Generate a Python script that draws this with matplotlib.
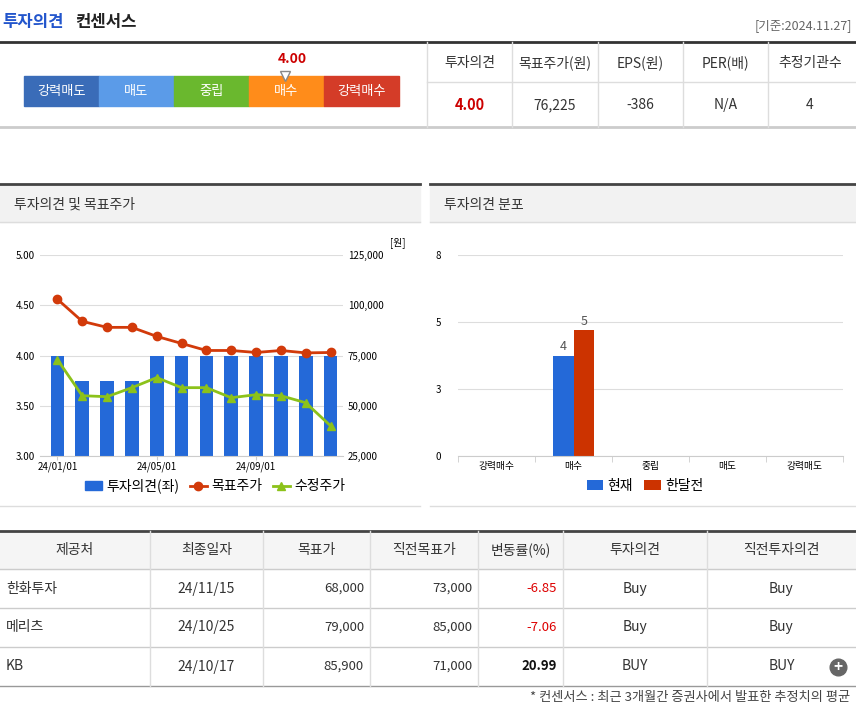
import matplotlib
matplotlib.use("Agg")
import matplotlib.pyplot as plt
from matplotlib import font_manager
from matplotlib.patches import Rectangle

cjk = [f.name for f in font_manager.fontManager.ttflist if "CJK" in f.name]
kr = [n for n in cjk if "KR" in n] or cjk
plt.rcParams["font.family"] = (kr[:1] if kr else []) + ["DejaVu Sans"]

W, H = 856, 710

# left chart data
dates = ["24/01/01", "", "", "", "24/05/01", "", "", "", "24/09/01", "", "", ""]
opinion = [4.0, 3.75, 3.75, 3.75, 4.0, 4.0, 4.0, 4.0, 4.0, 4.0, 4.0, 4.0]
target = [103000, 92000, 89000, 89000, 84500, 81000, 77500, 77500, 76500, 77500, 76300, 76500]
revised = [73000, 55000, 54500, 59000, 64000, 59000, 59000, 54000, 55500, 55000, 51500, 40000]

# right chart data
dist_cats = ["강력매수", "매수", "중립", "매도", "강력매도"]
dist_now = [0, 4, 0, 0, 0]
dist_prev = [0, 5, 0, 0, 0]

# header data
scale_labels = ["강력매도", "매도", "중립", "매수", "강력매수"]
scale_colors = ["#3a6cb8", "#5b9be8", "#6ab82e", "#ff8c1a", "#d43c28"]
summary_head = ["투자의견", "목표주가(원)", "EPS(원)", "PER(배)", "추정기관수"]
summary_vals = ["4.00", "76,225", "-386", "N/A", "4"]

# broker table
tbl_head = ["제공처", "최종일자", "목표가", "직전목표가", "변동률(%)", "투자의견", "직전투자의견"]
tbl_rows = [
    ["한화투자", "24/11/15", "68,000", "73,000", "-6.85", "Buy", "Buy"],
    ["메리츠", "24/10/25", "79,000", "85,000", "-7.06", "Buy", "Buy"],
    ["KB", "24/10/17", "85,900", "71,000", "20.99", "BUY", "BUY"],
]

fig = plt.figure(figsize=(W / 100, H / 100), dpi=100)
bg = fig.add_axes([0, 0, 1, 1])
bg.set_xlim(0, W)
bg.set_ylim(H, 0)
bg.axis("off")


def ax_px(x0, y0, x1, y1):
    return fig.add_axes([x0 / W, 1 - y1 / H, (x1 - x0) / W, (y1 - y0) / H])


# title
bg.text(2, 22, "투자의견", color="#2255cc", fontsize=12, fontweight="bold", va="center")
bg.text(75, 22, "컨센서스", color="#222", fontsize=12, fontweight="bold", va="center")
bg.text(852, 26, "[기준:2024.11.27]", color="#666", fontsize=9, ha="right", va="center")
bg.plot([0, 856], [42, 42], color="#333", lw=2)
bg.plot([0, 856], [127, 127], color="#ccc", lw=2)

# scale bar
x = 24
for lab, c in zip(scale_labels, scale_colors):
    bg.add_patch(Rectangle((x, 76), 75, 30, color=c))
    bg.text(x + 37.5, 91, lab, color="white", fontsize=9.5, ha="center", va="center")
    x += 75
bg.text(292, 59, "4.00", color="#cc0000", fontsize=10, fontweight="bold", ha="center", va="center")
bg.plot([285], [76], marker="v", color="white", markeredgecolor="#888", ms=7)

# summary table
cols = [427, 512, 598, 683, 768, 852]
bg.plot([427, 427], [42, 127], color="#ddd", lw=1)
bg.plot([427, 856], [82, 82], color="#ddd", lw=1)
for i, (h, v) in enumerate(zip(summary_head, summary_vals)):
    cx = (cols[i] + cols[i + 1]) / 2 if i < 4 else 810
    if i > 0:
        bg.plot([cols[i], cols[i]], [42, 127], color="#ddd", lw=1)
    bg.text(cx, 63, h, fontsize=10, ha="center", va="center", color="#333")
    bg.text(cx, 105, v, fontsize=10.5 if i == 0 else 10, ha="center", va="center",
            color="#cc0000" if i == 0 else "#333", fontweight="bold" if i == 0 else "normal")

# panel headers
for x0, x1, t in [(0, 420, "투자의견 및 목표주가"), (430, 856, "투자의견 분포")]:
    bg.add_patch(Rectangle((x0, 184), x1 - x0, 38, color="#f2f2f2"))
    bg.plot([x0, x1], [184, 184], color="#444", lw=2)
    bg.plot([x0, x1], [222, 222], color="#ddd", lw=1)
    bg.plot([x0, x1], [506, 506], color="#ddd", lw=1)
    bg.text(x0 + 14, 205, t, fontsize=10, va="center", color="#333")

# left chart
ax = ax_px(40, 255, 343, 456)
xs = list(range(len(opinion)))
ax.bar(xs, opinion, width=0.55, color="#2469d8", zorder=2)
ax.set_ylim(3.0, 5.0)
ax.set_yticks([3.0, 3.5, 4.0, 4.5, 5.0])
ax.set_yticklabels(["3.00", "3.50", "4.00", "4.50", "5.00"], fontsize=7)
ax.set_xlim(-0.7, 11.5)
ax.set_xticks([0, 4, 8])
ax.set_xticklabels([d for d in dates if d], fontsize=7)
ax.grid(axis="y", color="#ddd", lw=0.8)
for s in ["top", "right", "left"]:
    ax.spines[s].set_visible(False)
ax.spines["bottom"].set_color("#ccc")
ax.tick_params(axis="y", length=0)
ax.tick_params(axis="x", length=3, color="#ccc", pad=1)
ax2 = ax.twinx()
l1, = ax2.plot(xs, target, color="#d23a0a", marker="o", ms=6, lw=2, zorder=3)
l2, = ax2.plot(xs, revised, color="#8cc21a", marker="^", ms=6, lw=2, zorder=3)
ax2.set_ylim(25000, 125000)
ax2.set_yticks([25000, 50000, 75000, 100000, 125000])
ax2.set_yticklabels(["25,000", "50,000", "75,000", "100,000", "125,000"], fontsize=7)
ax2.tick_params(axis="y", length=0)
for s in ax2.spines.values():
    s.set_visible(False)
bg.text(398, 243, "[원]", fontsize=7, ha="center", va="center")
hb = Rectangle((0, 0), 1, 1, color="#2469d8")
fig.legend([hb, l1, l2], ["투자의견(좌)", "목표주가", "수정주가"], loc="center",
           bbox_to_anchor=(215 / W, 1 - 486 / H), ncol=3, frameon=False, fontsize=10,
           handlelength=1.2, columnspacing=0.8, handletextpad=0.3)

# right chart
bx = ax_px(458, 255, 843, 456)
pos = list(range(len(dist_cats)))
b1 = bx.bar([p - 0.135 for p in pos], dist_now, width=0.27, color="#2469d8", zorder=2)
b2 = bx.bar([p + 0.135 for p in pos], dist_prev, width=0.27, color="#cc3300", zorder=2)
for p, a, b in zip(pos, dist_now, dist_prev):
    if a:
        bx.text(p - 0.135, a + 0.1, str(a), ha="center", va="bottom", fontsize=9, color="#555")
    if b:
        bx.text(p + 0.135, b + 0.1, str(b), ha="center", va="bottom", fontsize=9, color="#555")
bx.set_ylim(0, 8)
bx.set_yticks([0, 8 / 3, 16 / 3, 8])
bx.set_yticklabels(["0", "3", "5", "8"], fontsize=7)
bx.set_xlim(-0.5, 4.5)
bx.set_xticks(pos)
bx.set_xticklabels(dist_cats, fontsize=7)
bx.set_xticks([-0.5, 0.5, 1.5, 2.5, 3.5, 4.5], minor=True)
bx.tick_params(axis="x", which="major", length=0)
bx.tick_params(axis="x", which="minor", length=4, color="#ccc")
bx.tick_params(axis="y", length=0, pad=12)
bx.grid(axis="y", color="#ddd", lw=0.8)
for s in ["top", "right", "left"]:
    bx.spines[s].set_visible(False)
bx.spines["bottom"].set_color("#ccc")
fig.legend([b1, b2], ["현재", "한달전"], loc="center", bbox_to_anchor=(645 / W, 1 - 486 / H),
           ncol=2, frameon=False, fontsize=10, handlelength=1.2, columnspacing=0.8,
           handletextpad=0.3)

# broker table
tcols = [0, 150, 263, 370, 478, 563, 707, 856]
bg.add_patch(Rectangle((0, 531), 856, 38, color="#f5f5f5"))
bg.plot([0, 856], [531, 531], color="#444", lw=2)
row_y = [569, 608, 647, 686]
for y in row_y:
    bg.plot([0, 856], [y, y], color="#ccc" if y != 686 else "#999", lw=1)
for xc in tcols[1:-1]:
    bg.plot([xc, xc], [531, 686], color="#ddd", lw=1)
for i, h in enumerate(tbl_head):
    bg.text((tcols[i] + tcols[i + 1]) / 2, 550, h, fontsize=10, ha="center", va="center", color="#333")
for r, row in enumerate(tbl_rows):
    yc = (row_y[r] + row_y[r + 1]) / 2
    for i, v in enumerate(row):
        if i == 0:
            bg.text(6, yc, v, fontsize=10, va="center", color="#333")
        elif i in (2, 3, 4):
            col = "#333"
            fw = "normal"
            if i == 4:
                col = "#dd0000" if v.startswith("-") else "#111"
                fw = "normal" if v.startswith("-") else "bold"
            bg.text(tcols[i + 1] - 6, yc, v, fontsize=9.5, ha="right", va="center", color=col, fontweight=fw)
        else:
            bg.text((tcols[i] + tcols[i + 1]) / 2, yc, v, fontsize=10, ha="center", va="center", color="#333")
bg.plot([838], [667], marker="o", ms=12, color="#666")
bg.text(838, 667, "+", color="white", fontsize=11, ha="center", va="center", fontweight="bold")
bg.text(850, 698, "* 컨센서스 : 최근 3개월간 증권사에서 발표한 추정치의 평균", fontsize=9.5,
        ha="right", va="center", color="#444")

fig.savefig("out.png", dpi=100)
